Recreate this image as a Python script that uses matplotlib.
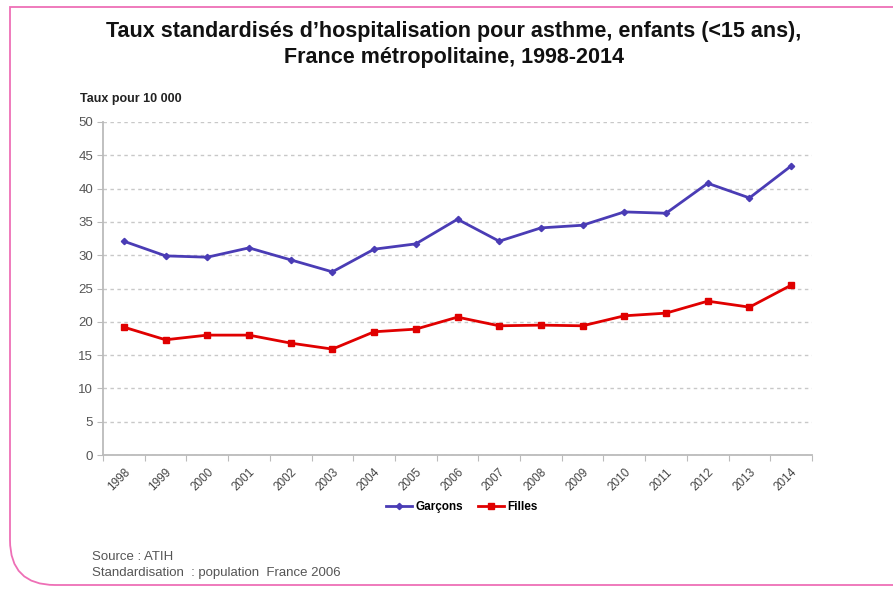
import matplotlib
matplotlib.use("Agg")
import matplotlib.pyplot as plt
from matplotlib.patches import PathPatch
from matplotlib.path import Path

years = [str(y) for y in range(1998, 2015)]
garcons = [32.1, 29.9, 29.7, 31.1, 29.3, 27.5, 30.9, 31.7, 35.4, 32.1,
           34.1, 34.5, 36.5, 36.3, 40.8, 38.6, 43.4]
filles = [19.2, 17.3, 18.0, 18.0, 16.8, 15.9, 18.5, 18.9, 20.7, 19.4,
          19.5, 19.4, 20.9, 21.3, 23.1, 22.2, 25.5]
yticks = list(range(0, 55, 5))

plt.rcParams['font.family'] = ['Liberation Sans', 'DejaVu Sans']

W, H = 893, 589
fig = plt.figure(figsize=(W / 100, H / 100), dpi=100)
fig.patch.set_facecolor("white")

# pink frame (square top-left, rounded bottom-left, open on the right)
x0, y0, y1, r = 10 / W, 1 - 7 / H, 1 - 585 / H, 45
verts = [(1.0, y0), (x0, y0), (x0, y1 + r / H), (x0, y1), (x0 + r / W, y1), (1.0, y1)]
codes = [Path.MOVETO, Path.LINETO, Path.LINETO, Path.CURVE3, Path.CURVE3, Path.LINETO]
fig.patches.append(PathPatch(Path(verts, codes), transform=fig.transFigure,
                             fill=False, edgecolor="#ee6fb6", lw=1.3))

ax = fig.add_axes([103 / W, 1 - 455 / H, (812 - 103) / W, (455 - 122) / H])
x = list(range(len(years)))
ax.plot(x, garcons, color="#4a3cb5", lw=2, marker="D", ms=3.2, label="Garçons")
ax.plot(x, filles, color="#e00000", lw=2, marker="s", ms=5, label="Filles")

ax.set_xlim(-0.5, len(years) - 0.5)
ax.set_ylim(0, 50)
ax.set_yticks(yticks)
ax.tick_params(axis="y", length=4, color="#bbbbbb", labelsize=9.5, labelcolor="#555555", pad=3)
ax.set_xticks([i - 0.5 for i in range(len(years) + 1)])
ax.set_xticklabels([])
ax.set_xticks(x, minor=True)
ax.set_xticklabels(years, minor=True, rotation=45, ha="right", va="top",
                   rotation_mode="anchor", fontsize=8.5, color="#444444")
ax.tick_params(axis="x", which="major", length=4, color="#bbbbbb")
ax.tick_params(axis="x", which="minor", length=0, pad=8)

ax.grid(axis="y", ls=(0, (2.5, 2.5)), color="#c8c8c8", lw=1)
ax.set_axisbelow(True)
for s in ["top", "right"]:
    ax.spines[s].set_visible(False)
ax.spines["left"].set_color("#bbbbbb")
ax.spines["bottom"].set_color("#bbbbbb")
ax.spines["left"].set_linewidth(1.3)
ax.spines["bottom"].set_linewidth(1.3)

fig.text(454 / W, 1 - 31 / H, "Taux standardisés d’hospitalisation pour asthme, enfants (<15 ans),",
         ha="center", va="center", fontsize=15.5, fontweight="bold", color="#111111")
fig.text(454 / W, 1 - 57 / H, "France métropolitaine, 1998-2014",
         ha="center", va="center", fontsize=15.5, fontweight="bold", color="#111111")
fig.text(80 / W, 1 - 99 / H, "Taux pour 10 000", ha="left", va="center",
         fontsize=9, fontweight="bold", color="#222222")

ax.legend(loc="center", bbox_to_anchor=(462 / W, 1 - 507 / H), bbox_transform=fig.transFigure,
          ncol=2, frameon=False, prop={"size": 8.5, "weight": "bold"},
          handlelength=2.2, columnspacing=1.2, handletextpad=0.3)

fig.text(92 / W, 1 - 557 / H, "Source : ATIH", ha="left", va="center",
         fontsize=9.5, color="#555555")
fig.text(92 / W, 1 - 573 / H, "Standardisation  : population  France 2006", ha="left",
         va="center", fontsize=9.5, color="#555555")

fig.savefig("out.png", dpi=100, facecolor="white")
